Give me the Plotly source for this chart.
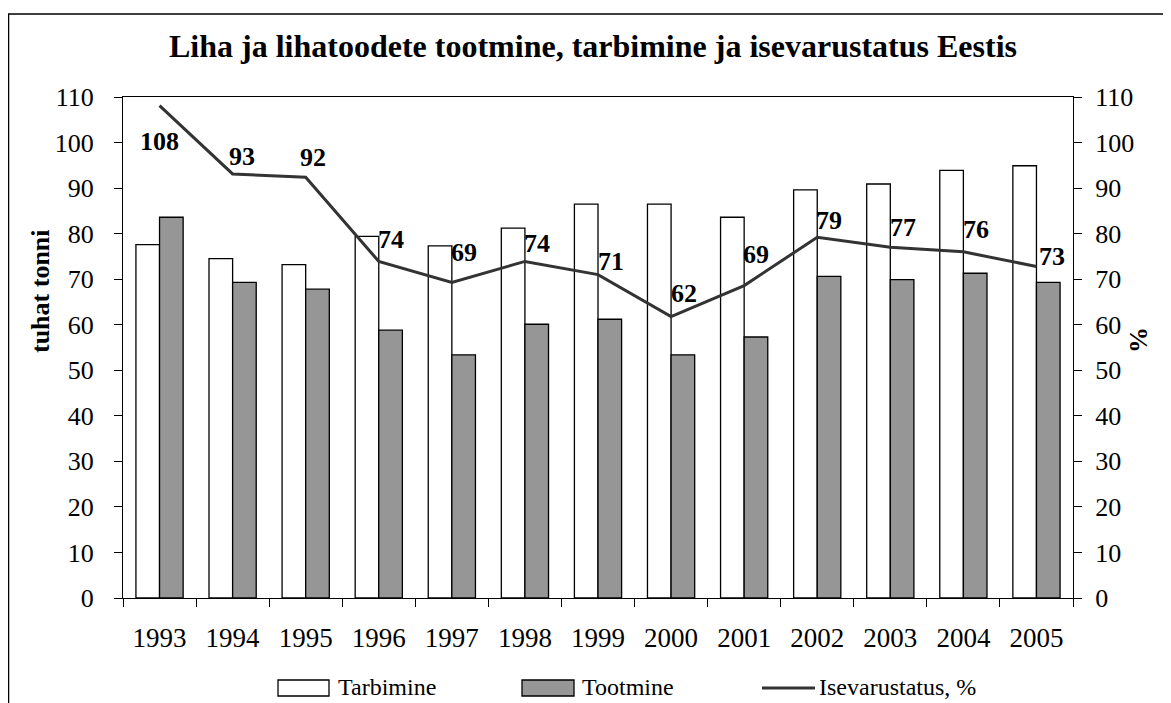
import plotly.graph_objects as go

# ---------------- data ----------------
years = [str(y) for y in range(1993, 2006)]
tarbimine = [77.6, 74.5, 73.2, 79.4, 77.3, 81.2, 86.5, 86.5, 83.6, 89.6, 90.9, 93.9, 94.9]
tootmine = [83.6, 69.3, 67.8, 58.8, 53.4, 60.1, 61.2, 53.4, 57.3, 70.6, 69.9, 71.3, 69.3]
isevarustatus = [108.1, 93.1, 92.4, 73.9, 69.3, 73.9, 71.0, 61.8, 68.6, 79.2, 77.0, 76.0, 72.8]
y_ticks = list(range(0, 111, 10))

# label offsets (pixels) for the line value labels -- styling only
label_dx = [0, 9, 7, 12, 12, 12, 13, 13, 12, 12, 13, 13, 16]
label_dy = [-36, 17, 20, 22, 30, 18, 13, 23, 31, 17, 20, 22, 10]

FONT = "Liberation Serif"
OFF = 8  # page body margin
W, H = 1171 - OFF, 703 - OFF
L, R, T, B = 123 - OFF, 1073 - OFF, 97 - OFF, 598 - OFF


def px(x):
    """reference-picture x pixel -> paper coordinate"""
    return (x - OFF - L) / (R - L)


def py(y):
    """reference-picture y pixel -> paper coordinate"""
    return (B - (y - OFF)) / (B - T)


fig = go.Figure()
fig.add_trace(go.Bar(x=years, y=tarbimine, name="Tarbimine",
                     marker=dict(color="white", line=dict(color="black", width=1.3))))
fig.add_trace(go.Bar(x=years, y=tootmine, name="Tootmine",
                     marker=dict(color="#969696", line=dict(color="black", width=1.3))))
fig.add_trace(go.Scatter(x=years, y=isevarustatus, name="Isevarustatus, %", yaxis="y2",
                         mode="lines", line=dict(color="#333333", width=3)))

annotations = []
for i, (v, dx, dy) in enumerate(zip(isevarustatus, label_dx, label_dy)):
    annotations.append(dict(x=i, y=v, xref="x", yref="y2", text=f"<b>{round(v)}</b>",
                            showarrow=False, xshift=dx, yshift=dy,
                            xanchor="center", yanchor="middle",
                            font=dict(family=FONT, size=26, color="black")))

# axis titles
annotations.append(dict(x=px(40), y=py(291), xref="paper", yref="paper", text="<b>tuhat tonni</b>",
                        textangle=-90, showarrow=False, xanchor="center", yanchor="middle",
                        font=dict(family=FONT, size=26, color="black")))
annotations.append(dict(x=px(1138), y=py(340), xref="paper", yref="paper", text="<b>%</b>",
                        textangle=-90, showarrow=False, xanchor="center", yanchor="middle",
                        font=dict(family=FONT, size=26, color="black")))

# legend (manual)
leg_y = 687
shapes = [
    dict(type="rect", xref="paper", yref="paper", x0=px(8.5), x1=px(1185), y0=py(720), y1=py(14),
         line=dict(color="black", width=1.5), fillcolor="rgba(0,0,0,0)", layer="below"),
    dict(type="rect", xref="paper", yref="paper", x0=px(278), x1=px(329), y0=py(696), y1=py(680),
         line=dict(color="black", width=1.3), fillcolor="white"),
    dict(type="rect", xref="paper", yref="paper", x0=px(522), x1=px(574), y0=py(696), y1=py(680),
         line=dict(color="black", width=1.3), fillcolor="#969696"),
    dict(type="line", xref="paper", yref="paper", x0=px(762), x1=px(815), y0=py(leg_y + 1), y1=py(leg_y + 1),
         line=dict(color="#333333", width=3)),
]
for name, xl in [("Tarbimine", 336), ("Tootmine", 580), ("Isevarustatus, %", 817)]:
    annotations.append(dict(x=px(xl), y=py(leg_y), xref="paper", yref="paper", text=name,
                            xanchor="left", yanchor="middle", showarrow=False,
                            font=dict(family=FONT, size=24, color="black")))

axis_common = dict(range=[0, 110], tickmode="array", tickvals=y_ticks, showgrid=False,
                   zeroline=False, tickcolor="black", tickwidth=1, ticklen=8)

fig.update_layout(
    width=W, height=H, autosize=False,
    margin=dict(l=L, r=W - R, t=T, b=H - B, pad=0),
    paper_bgcolor="white", plot_bgcolor="white",
    font=dict(family=FONT, color="black"),
    title=dict(text="<b>Liha ja lihatoodete tootmine, tarbimine ja isevarustatus Eestis</b>",
               x=(593 - OFF) / W, xref="container", xanchor="center",
               y=1 - (46 - OFF) / H, yref="container",
               yanchor="middle", font=dict(family=FONT, size=32, color="black")),
    barmode="group", bargap=0.354, bargroupgap=0,
    showlegend=False,
    xaxis=dict(type="category", categoryorder="array", categoryarray=years, range=[-0.5, 12.5],
               showline=True, linecolor="black", linewidth=1, mirror=True,
               ticks="outside", tickson="boundaries", ticklen=8, tickcolor="black",
               tickfont=dict(family=FONT, size=27), ticklabelstandoff=16, showgrid=False),
    xaxis2=dict(overlaying="x", anchor="y", side="bottom", range=[-0.5, 12.5],
                tickmode="array", tickvals=[i - 0.5 for i in range(14)], ticks="inside",
                ticklen=8, tickcolor="black", showticklabels=False, showline=False,
                showgrid=False, zeroline=False),
    yaxis=dict(**axis_common, ticks="outside", showline=True, linecolor="black", linewidth=1,
               tickfont=dict(family=FONT, size=26), ticklabelstandoff=15),
    yaxis2=dict(**axis_common, overlaying="y", side="right", anchor="x", ticks="outside",
                showline=True, linecolor="black", linewidth=1,
                tickfont=dict(family=FONT, size=26), ticklabelstandoff=8),
    yaxis3=dict(**axis_common, overlaying="y", side="left", anchor="x", ticks="inside",
                showticklabels=False, showline=False),
    yaxis4=dict(**axis_common, overlaying="y", side="right", anchor="x", ticks="inside",
                showticklabels=False, showline=False),
    annotations=annotations,
    shapes=shapes,
)

fig.write_html("out.html")
